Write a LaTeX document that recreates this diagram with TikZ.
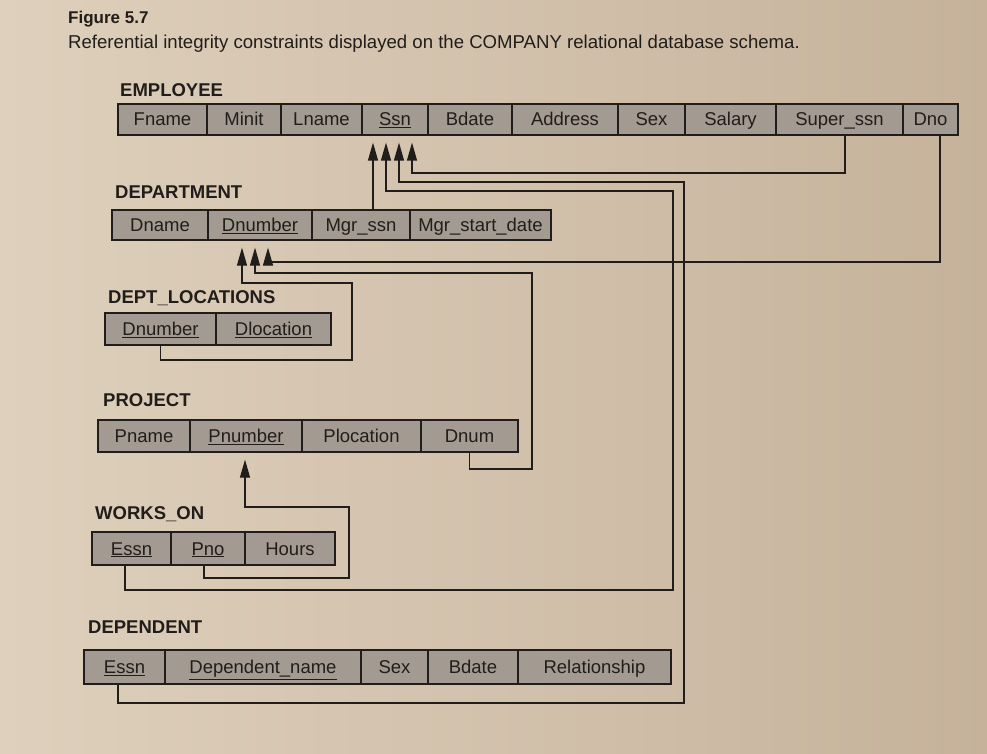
\documentclass[tikz,border=0pt]{standalone}
\usepackage{fontspec}
\setmainfont{Liberation Sans}
\usetikzlibrary{arrows.meta}
\definecolor{paperL}{HTML}{DED0BC}
\definecolor{paperR}{HTML}{C6B29B}
\definecolor{cellgray}{HTML}{A39B92}
\definecolor{ink}{HTML}{211D1A}
\begin{document}
\begin{tikzpicture}[x=1pt,y=-1pt,
  cell/.style={draw=ink, fill=cellgray, line width=1.2pt, inner sep=0pt,
    font=\fontsize{18.5}{20}\selectfont, text=ink, text height=15pt, text depth=2pt},
  c/.style 2 args={cell, minimum width=#1pt, minimum height=#2pt},
  tlabel/.style={anchor=base west, inner sep=0pt, text=ink,
    font=\fontsize{18.5}{20}\selectfont\bfseries},
  conn/.style={draw=ink, line width=1.2pt},
  arr/.style={conn, -{Triangle[length=18pt,width=10pt]}, shorten >=7pt}]
\shade[left color=paperL, right color=paperR] (0,0) rectangle (987,754);
\useasboundingbox (0,0) rectangle (987,754);

% captions
\node[anchor=base west, inner sep=0pt, text=ink, font=\fontsize{17}{19}\selectfont\bfseries] (fig) at (68,24) {Figure 5.7};
\node[anchor=base west, inner sep=0pt, text=ink, font=\fontsize{18.6}{20}\selectfont] (cap) at (68,49) {Referential integrity constraints displayed on the COMPANY relational database schema.};

% EMPLOYEE
\node[tlabel] (lemp) at (120,97) {EMPLOYEE};
\node[c={89}{31}]  (fname)    at (162.5,119.5) {Fname};
\node[c={74}{31}]  (minit)    at (244,119.5)   {Minit};
\node[c={81}{31}]  (lname)    at (321.5,119.5) {Lname};
\node[c={66}{31}]  (ssn)      at (395,119.5)   {\underline{Ssn}};
\node[c={84}{31}]  (bdate)    at (470,119.5)   {Bdate};
\node[c={106}{31}] (address)  at (565,119.5)   {Address};
\node[c={67}{31}]  (sex)      at (651.5,119.5) {Sex};
\node[c={91}{31}]  (salary)   at (730.5,119.5) {Salary};
\node[c={127}{31}] (superssn) at (839.5,119.5) {Super\_ssn};
\node[c={55}{31}]  (dno)      at (930.5,119.5) {Dno};

% DEPARTMENT
\node[tlabel] (ldep) at (115,198) {DEPARTMENT};
\node[c={96}{30}]  (dname)    at (160,225)   {Dname};
\node[c={104}{30}] (dnumber)  at (260,225)   {\underline{Dnumber}};
\node[c={98}{30}]  (mgrssn)   at (361,225)   {Mgr\_ssn};
\node[c={141}{30}] (mgrstart) at (480.5,225) {Mgr\_start\_date};

% DEPT_LOCATIONS
\node[tlabel] (lloc) at (108,303) {DEPT\_LOCATIONS};
\node[c={111}{32}] (dlnum) at (160.5,329) {\underline{Dnumber}};
\node[c={115}{32}] (dloc)  at (273.5,329) {\underline{Dlocation}};

% PROJECT
\node[tlabel] (lproj) at (103,406) {PROJECT};
\node[c={92}{32}]  (pname)     at (144,436)   {Pname};
\node[c={112}{32}] (pnumber)   at (246,436)   {\underline{Pnumber}};
\node[c={119}{32}] (plocation) at (361.5,436) {Plocation};
\node[c={97}{32}]  (dnum)      at (469.5,436) {Dnum};

% WORKS_ON
\node[tlabel] (lworks) at (95,519) {WORKS\_ON};
\node[c={79}{33}] (wessn) at (131.5,548.5) {\underline{Essn}};
\node[c={74}{33}] (wpno)  at (208,548.5)   {\underline{Pno}};
\node[c={90}{33}] (hours) at (290,548.5)   {Hours};

% DEPENDENT
\node[tlabel] (ldepd) at (88,633) {DEPENDENT};
\node[c={81}{34}]  (dessn)   at (124.5,667) {\underline{Essn}};
\node[c={196}{34}] (depname) at (263,667)   {\underline{Dependent\_name}};
\node[c={67}{34}]  (dsex)    at (394.5,667) {Sex};
\node[c={90}{34}]  (dbdate)  at (473,667)   {Bdate};
\node[c={153}{34}] (rel)     at (594.5,667) {Relationship};

% turning points
\coordinate (m1) at (373,0);
\coordinate (e0) at (673,590);
\coordinate (e1) at (386,191);
\coordinate (f0) at (684,703);
\coordinate (f1) at (399,182);
\coordinate (s1) at (412,173);
\coordinate (d1) at (268,262);
\coordinate (p0) at (532,469);
\coordinate (p1) at (255,273);
\coordinate (l0) at (352,360);
\coordinate (l1) at (242,283);
\coordinate (q0) at (349,578);
\coordinate (q1) at (245,507);

% connectors to Ssn
\draw[arr] (mgrssn.north -| m1) -- (m1 |- ssn.south);
\draw[arr] ([xshift=-6.5pt]wessn.south) |- (e0) |- (e1) -- (e1 |- ssn.south);
\draw[arr] ([xshift=-6.5pt]dessn.south) |- (f0) |- (f1) -- (f1 |- ssn.south);
\draw[arr] ([xshift=5.5pt]superssn.south) |- (s1) -- (s1 |- ssn.south);

% connectors to Dnumber
\draw[arr] ([xshift=9.5pt]dno.south) |- (d1) -- (d1 |- dnumber.south);
\draw[arr] (dnum.south) |- (p0) |- (p1) -- (p1 |- dnumber.south);
\draw[arr] (dlnum.south) |- (l0) |- (l1) -- (l1 |- dnumber.south);

% connector to Pnumber
\draw[arr] ([xshift=-4pt]wpno.south) |- (q0) |- (q1) -- (q1 |- pnumber.south);
\end{tikzpicture}
\end{document}
